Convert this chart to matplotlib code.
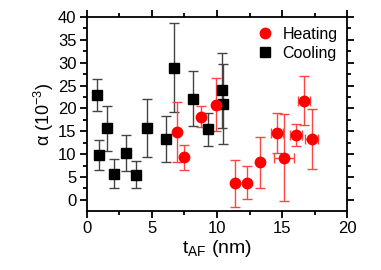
import matplotlib
matplotlib.use("Agg")
import matplotlib.pyplot as plt
from matplotlib.ticker import MultipleLocator

plt.rcParams['font.family'] = ['Liberation Sans', 'DejaVu Sans']

# Heating (red circles)
heat_x = [6.9, 7.49, 8.77, 9.92, 11.36, 12.33, 13.3, 14.64, 15.15, 16.05, 16.7, 17.28]
heat_y = [14.8, 9.3, 18.2, 20.8, 3.6, 3.8, 8.2, 14.6, 9.25, 14.2, 21.7, 13.3]
heat_yerr = [6.6, 2.7, 2.3, 5.8, 5.1, 3.7, 5.6, 4.3, 9.5, 2.4, 5.4, 6.6]
heat_xerr = [0.0, 0.0, 0.0, 0.0, 0.0, 0.0, 0.0, 0.45, 0.8, 0.45, 0.45, 0.5]

# Cooling (black squares)
cool_x = [0.75, 0.95, 1.56, 2.08, 3.0, 3.74, 4.59, 6.05, 6.7, 8.13, 9.33, 10.36, 10.49]
cool_y = [22.9, 9.8, 15.7, 5.7, 10.2, 5.5, 15.7, 13.3, 28.9, 22.1, 15.4, 24.0, 21.0]
cool_yerr = [3.5, 3.3, 4.9, 3.2, 3.9, 3.0, 6.4, 5.0, 9.7, 6.0, 3.6, 8.2, 8.7]

fig = plt.figure(figsize=(3.81, 2.70), dpi=100)
ax = fig.add_axes([0.228, 0.219, 0.683, 0.718])

ax.errorbar(cool_x, cool_y, yerr=cool_yerr, fmt='none', ecolor='#444444',
            elinewidth=1.0, capsize=3.5, capthick=1.0, zorder=2)
ax.errorbar(heat_x, heat_y, yerr=heat_yerr, xerr=heat_xerr, fmt='none',
            ecolor='#ff4444', elinewidth=1.0, capsize=3.5, capthick=1.0, zorder=2)
ax.plot(cool_x, cool_y, 's', color='black', markersize=7.5, label='Cooling', zorder=3)
ax.plot(heat_x, heat_y, 'o', color='red', markersize=8.5, markeredgewidth=0,
        label='Heating', zorder=4)

ax.set_xlim(0, 20)
ax.set_ylim(-2.4, 40)
ax.xaxis.set_major_locator(MultipleLocator(5))
ax.xaxis.set_minor_locator(MultipleLocator(2.5))
ax.yaxis.set_major_locator(MultipleLocator(5))
ax.yaxis.set_minor_locator(MultipleLocator(2.5))
ax.tick_params(which='both', direction='out', top=True, right=True,
               labeltop=False, labelright=False, width=1.3, labelsize=12)
ax.tick_params(which='major', length=5, pad=2.5)
ax.tick_params(which='minor', length=3)
for s in ax.spines.values():
    s.set_linewidth(1.3)

ax.set_xlabel('t$_{\\mathregular{AF}}$ (nm)', fontsize=14, labelpad=1)
ax.set_ylabel('α (10$^{\\mathregular{-3}}$)', fontsize=13, labelpad=1)

handles, labels = ax.get_legend_handles_labels()
ax.legend([handles[1], handles[0]], [labels[1], labels[0]], loc='upper right',
          frameon=False, fontsize=11.5, handletextpad=0.5, borderaxespad=0.2,
          labelspacing=0.25, handlelength=1.2)

fig.savefig('out.png', dpi=100)
